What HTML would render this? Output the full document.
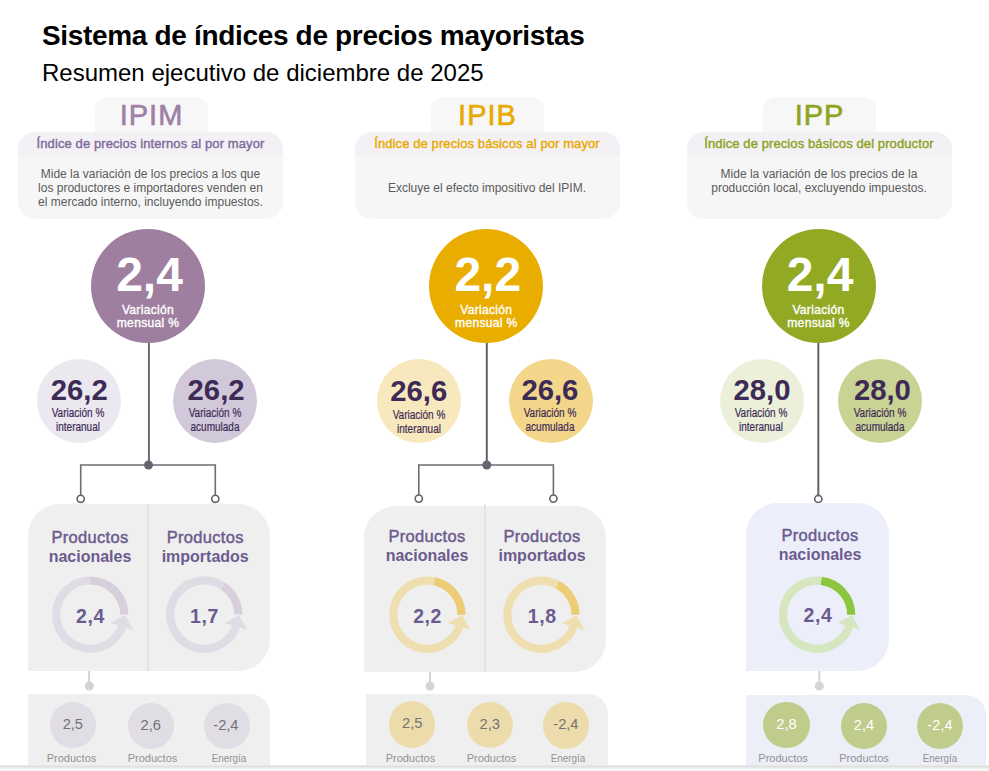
<!DOCTYPE html>
<html><head><meta charset="utf-8">
<style>
*{margin:0;padding:0;box-sizing:border-box}
html,body{width:989px;height:771px;overflow:hidden;background:#fff;font-family:"Liberation Sans",sans-serif}
.a{position:absolute}
.t{white-space:nowrap;text-align:center}
#title{left:42px;top:19px;font-size:28px;font-weight:bold;color:#000;letter-spacing:-0.33px;line-height:34px}
#sub{left:42px;top:59px;font-size:24px;color:#000;line-height:28px}
.tab{background:#f7f7f7;border-radius:13px 13px 0 0;width:113px;height:40px;top:97px}
.tab span{display:block;text-align:center;font-size:29px;line-height:30px;margin-top:2.8px;letter-spacing:1px;text-indent:1px;-webkit-text-stroke:0.6px currentColor}
.card{top:132px;width:265px;height:87px;border-radius:17px;background:#f6f6f7;overflow:hidden}
.card .hd{height:23.5px;background:#f3f1f5;text-align:center;font-size:13px;-webkit-text-stroke:0.4px currentColor;letter-spacing:0.1px;line-height:14px;padding-top:5px;white-space:nowrap}
.card .ds{text-align:center;font-size:12px;line-height:14px;color:#5a5a5a;white-space:nowrap}
.big{width:114px;height:114px;border-radius:50%;top:228.8px;color:#fff;text-align:center}
.big .n{font-size:48px;font-weight:bold;line-height:48px;margin-top:22px;padding-left:3px}
.big .l{font-size:12.1px;line-height:12.8px;margin-top:5px;letter-spacing:0.3px;-webkit-text-stroke:0.35px #fff}
.sm{width:84px;height:84px;border-radius:50%;top:359px;color:#3d2b57;text-align:center}
.sm .n{font-size:29.3px;font-weight:bold;line-height:29px;margin-top:15.8px;position:relative}
.sm .l{font-size:12.5px;line-height:14px;transform:translateX(-1px) scaleX(0.8);white-space:nowrap;margin-top:2.6px;position:relative;-webkit-text-stroke:0.2px currentColor}
.pn{background:#efefef;border-radius:32px 32px 32px 0}
.pt{font-size:16px;font-weight:bold;color:#6c5b8e;line-height:19px;text-align:center;white-space:nowrap}
.pt .m{font-weight:normal;font-size:16.5px;letter-spacing:0.3px;-webkit-text-stroke:0.45px currentColor}
.rn{font-size:19.5px;font-weight:bold;color:#6b5b8f;text-align:center;line-height:20px;letter-spacing:0.6px;text-indent:0.6px}
.lp{background:#efefef;border-radius:0 20px 0 0;top:694px;height:100px}
.lc{width:46.3px;height:46.3px;border-radius:50%;text-align:center;font-size:14.7px;line-height:45px}
.lc.neg{text-indent:-2px}
.ll{font-size:11px;color:#929292;top:751.8px;width:80px;text-align:center;line-height:13px}
#bar{left:0;top:765px;width:989px;height:6px;background:linear-gradient(#ebebeb 0,#e0e0e0 1.5px,#ebebeb 3px,#f5f5f5 4px,#f5f5f5 100%)}
</style></head><body>

<div id="title" class="a t" style="text-align:left">Sistema de índices de precios mayoristas</div>
<div id="sub" class="a t" style="text-align:left">Resumen ejecutivo de diciembre de 2025</div>

<!-- ===== COLUMN 1 IPIM ===== -->
<div class="a tab" style="left:94.5px"><span style="color:#9e7fa6">IPIM</span></div>
<div class="a card" style="left:18px">
  <div class="hd" style="color:#7f6b9b">Índice de precios internos al por mayor</div>
  <div class="ds" style="padding-top:11.9px">Mide la variación de los precios a los que<br>los productores e importadores venden en<br>el mercado interno, incluyendo impuestos.</div>
</div>

<!-- ===== COLUMN 2 IPIB ===== -->
<div class="a tab" style="left:430.5px"><span style="color:#e8a900">IPIB</span></div>
<div class="a card" style="left:354.5px">
  <div class="hd" style="color:#e8a900">Índice de precios básicos al por mayor</div>
  <div class="ds" style="padding-top:25.7px">Excluye el efecto impositivo del IPIM.</div>
</div>

<!-- ===== COLUMN 3 IPP ===== -->
<div class="a tab" style="left:762.5px"><span style="color:#8ea31e">IPP</span></div>
<div class="a card" style="left:686.5px">
  <div class="hd" style="color:#8ea31e">Índice de precios básicos del productor</div>
  <div class="ds" style="padding-top:11.9px">Mide la variación de los precios de la<br>producción local, excluyendo impuestos.</div>
</div>

<!-- connectors -->
<svg class="a" style="left:0;top:0" width="989" height="771">
  <g stroke="#64626c" fill="none">
    <line x1="148.9" y1="340" x2="148.9" y2="465" stroke-width="1.9"/>
    <polyline points="80.7,495 80.7,465 215.3,465 215.3,495" stroke-width="1.6" stroke="#6d6b73"/>
    <line x1="486.8" y1="340" x2="486.8" y2="465" stroke-width="2"/>
    <polyline points="418.8,495 418.8,465 553.4,465 553.4,495" stroke-width="1.6" stroke="#6d6b73"/>
    <line x1="818.3" y1="340" x2="818.3" y2="495" stroke-width="2"/>
  </g>
  <g fill="#67646f">
    <circle cx="148.5" cy="465" r="4.5"/>
    <circle cx="486.8" cy="465" r="4.5"/>
  </g>
  <g fill="#fff" stroke="#64616b" stroke-width="1.6">
    <circle cx="80.7" cy="498.8" r="3.6"/>
    <circle cx="215.3" cy="498.8" r="3.6"/>
    <circle cx="418.8" cy="498.6" r="3.6"/>
    <circle cx="553.4" cy="498.6" r="3.6"/>
    <circle cx="818.3" cy="499" r="3.6"/>
  </g>
  <g stroke="#d4d4d4" stroke-width="2">
    <line x1="89.1" y1="670" x2="89.1" y2="684"/>
    <line x1="430" y1="670" x2="430" y2="684"/>
    <line x1="819.3" y1="670" x2="819.3" y2="684"/>
  </g>
  <g fill="#d4d4d4">
    <circle cx="89.3" cy="686" r="4.5"/>
    <circle cx="430" cy="686" r="4.5"/>
    <circle cx="819.3" cy="686" r="4.5"/>
  </g>
</svg>

<!-- big circles -->
<div class="a big" style="left:91px;background:#9f7fa0"><div class="n">2,4</div><div class="l">Variación<br>mensual %</div></div>
<div class="a big" style="left:429.3px;background:#e9ad00"><div class="n">2,2</div><div class="l">Variación<br>mensual %</div></div>
<div class="a big" style="left:761.5px;background:#92a924"><div class="n">2,4</div><div class="l">Variación<br>mensual %</div></div>

<!-- small circles -->
<div class="a sm" style="left:37px;background:#ece8ef"><div class="n" style="left:0.3px;top:0px">26,2</div><div class="l" style="left:0px;top:0px">Variación %<br>interanual</div></div>
<div class="a sm" style="left:173px;background:#d1c9da"><div class="n" style="left:1.1px;top:0px">26,2</div><div class="l" style="left:0.5px;top:0px">Variación %<br>acumulada</div></div>
<div class="a sm" style="left:377.2px;background:#f8e8bd"><div class="n" style="left:-0.4px;top:1.3px">26,6</div><div class="l" style="left:0.5px;top:1.8px">Variación %<br>interanual</div></div>
<div class="a sm" style="left:509.4px;background:#f3d68a"><div class="n" style="left:-1.5px;top:0.3px">26,6</div><div class="l" style="left:-0.5px;top:0px">Variación %<br>acumulada</div></div>
<div class="a sm" style="left:720px;background:#ecf0da"><div class="n" style="left:0px;top:0px">28,0</div><div class="l" style="left:0px;top:0px">Variación %<br>interanual</div></div>
<div class="a sm" style="left:838px;background:#c9d393"><div class="n" style="left:2.4px;top:0.3px">28,0</div><div class="l" style="left:0.9px;top:0px">Variación %<br>acumulada</div></div>

<!-- upper panels -->
<div class="a pn" style="left:28px;top:503.5px;width:241.7px;height:167px"></div>
<div class="a" style="left:147.3px;top:503.5px;width:1.5px;height:167px;background:#e3e3ec"></div>
<div class="a pn" style="left:363.7px;top:505.7px;width:242px;height:166.3px"></div>
<div class="a" style="left:484.2px;top:504px;width:1.5px;height:168px;background:#e0e4ec"></div>
<div class="a pn" style="left:746px;top:503.4px;width:143.2px;height:167.6px;background:#eceef9"></div>

<div class="a pt" style="left:30px;top:528px;width:120px"><span class="m">Productos</span><br>nacionales</div>
<div class="a pt" style="left:145.2px;top:528px;width:120px"><span class="m">Productos</span><br>importados</div>
<div class="a pt" style="left:367px;top:527px;width:120px"><span class="m">Productos</span><br>nacionales</div>
<div class="a pt" style="left:482px;top:527px;width:120px"><span class="m">Productos</span><br>importados</div>
<div class="a pt" style="left:760px;top:526px;width:120px"><span class="m">Productos</span><br>nacionales</div>

<!-- rings -->
<svg class="a" style="left:0;top:0" width="989" height="771" id="rings">
<path d="M123.29,622.85 A34.1,34.1 0 1 1 90.20,580.50" stroke="#e0dce5" stroke-width="8.2" fill="none"/>
<path d="M90.20,580.50 A34.1,34.1 0 0 1 124.30,614.60" stroke="#d7cfdb" stroke-width="8.2" fill="none"/>
<path d="M125.10,615.09 L133.02,629.68 L110.53,623.02 Z" fill="#e0dce5"/>
<path d="M237.29,622.85 A34.1,34.1 0 1 1 222.77,586.00" stroke="#e0dce5" stroke-width="8.2" fill="none"/>
<path d="M222.77,586.00 A34.1,34.1 0 0 1 238.30,614.60" stroke="#d7cfdb" stroke-width="8.2" fill="none"/>
<path d="M239.10,615.09 L247.02,629.68 L224.53,623.02 Z" fill="#e0dce5"/>
<path d="M460.44,622.95 A34.1,34.1 0 1 1 434.44,581.35" stroke="#efdfb0" stroke-width="8.2" fill="none"/>
<path d="M434.44,581.35 A34.1,34.1 0 0 1 461.45,614.70" stroke="#eccc74" stroke-width="8.2" fill="none"/>
<path d="M462.25,615.19 L470.17,629.78 L447.68,623.12 Z" fill="#efdfb0"/>
<path d="M574.49,623.05 A34.1,34.1 0 1 1 557.41,584.69" stroke="#efdfb0" stroke-width="8.2" fill="none"/>
<path d="M557.41,584.69 A34.1,34.1 0 0 1 575.50,614.80" stroke="#eccc74" stroke-width="8.2" fill="none"/>
<path d="M576.30,615.29 L584.22,629.88 L561.73,623.22 Z" fill="#efdfb0"/>
<path d="M850.19,622.95 A34.1,34.1 0 1 1 821.26,580.85" stroke="#d6e6bf" stroke-width="8.2" fill="none"/>
<path d="M821.26,580.85 A34.1,34.1 0 0 1 851.20,614.70" stroke="#8cc63f" stroke-width="8.2" fill="none"/>
<path d="M852.00,615.19 L859.92,629.78 L837.43,623.12 Z" fill="#d6e6bf"/>
</svg>

<div class="a rn" style="left:60.2px;top:605.5px;width:60px">2,4</div>
<div class="a rn" style="left:174.2px;top:605.5px;width:60px">1,7</div>
<div class="a rn" style="left:397.3px;top:605.5px;width:60px">2,2</div>
<div class="a rn" style="left:511.9px;top:605.5px;width:60px">1,8</div>
<div class="a rn" style="left:787.7px;top:604.8px;width:60px">2,4</div>

<!-- lower panels -->
<div class="a lp" style="left:28px;width:241.7px"></div>
<div class="a lp" style="left:365.7px;width:242.5px"></div>
<div class="a lp" style="left:745.5px;width:240px;top:695px;background:#eceef8"></div>

<div class="a lc" style="left:49.70px;top:701.85px;background:#e0dde5;color:#737373">2,5</div>
<div class="a lc" style="left:127.55px;top:702.75px;background:#e0dde5;color:#737373">2,6</div>
<div class="a lc neg" style="left:203.75px;top:702.75px;background:#e0dde5;color:#737373">-2,4</div>
<div class="a lc" style="left:389.05px;top:701.45px;background:#eddcab;color:#737373">2,5</div>
<div class="a lc" style="left:466.65px;top:701.85px;background:#eddcab;color:#737373">2,3</div>
<div class="a lc" style="left:542.75px;top:702.35px;background:#eddcab;color:#737373">-2,4</div>
<div class="a lc" style="left:763.35px;top:701.85px;background:#c0cc8c;color:#ffffff">2,8</div>
<div class="a lc" style="left:840.85px;top:702.85px;background:#c0cc8c;color:#ffffff">2,4</div>
<div class="a lc" style="left:916.85px;top:702.85px;background:#c0cc8c;color:#ffffff">-2,4</div>
<div class="a ll" style="left:31.50px">Productos</div>
<div class="a ll" style="left:112.50px">Productos</div>
<div class="a ll" style="left:188.80px;transform:scaleX(0.9)">Energía</div>
<div class="a ll" style="left:370.40px">Productos</div>
<div class="a ll" style="left:451.40px">Productos</div>
<div class="a ll" style="left:527.80px;transform:scaleX(0.9)">Energía</div>
<div class="a ll" style="left:743.10px">Productos</div>
<div class="a ll" style="left:824.00px">Productos</div>
<div class="a ll" style="left:899.90px;transform:scaleX(0.9)">Energía</div>

<div id="bar" class="a"></div>
</body></html>
